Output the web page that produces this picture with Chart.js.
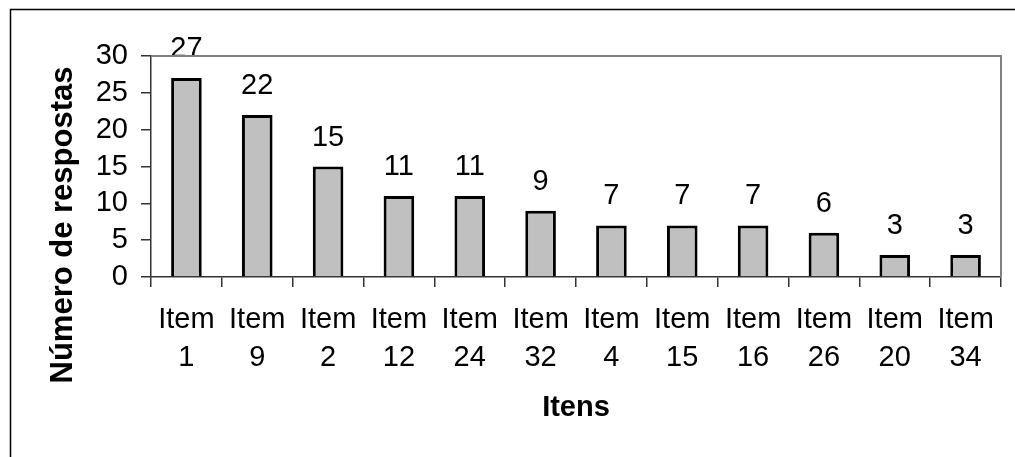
<!DOCTYPE html>
<html>
<head>
<meta charset="utf-8">
<script src="https://cdn.jsdelivr.net/npm/chart.js@4/dist/chart.umd.min.js"></script>
<style>
  body { margin: 0; background: #fff; }
  canvas { display: block; }
</style>
</head>
<body>
<canvas id="myChart" width="1015" height="457"></canvas>
<script>
const items = ['1', '9', '2', '12', '24', '32', '4', '15', '16', '26', '20', '34'];
const answers = [27, 22, 15, 11, 11, 9, 7, 7, 7, 6, 3, 3];
const yTitle = 'Número de respostas';
const xTitle = 'Itens';

const labels = items.map(function (n) { return ['Item', n]; });

// white background, outer frame and the grey plot box
const framePlugin = {
    id: 'frame',
    beforeDraw: function (chart) {
        const ctx = chart.ctx;
        ctx.save();
        ctx.fillStyle = '#fff';
        ctx.fillRect(0, 0, chart.width, chart.height);
        ctx.strokeStyle = '#000';
        ctx.lineWidth = 1.5;
        ctx.beginPath();
        ctx.moveTo(10.5, chart.height + 2);
        ctx.lineTo(10.5, 9.5);
        ctx.lineTo(chart.width + 2, 9.5);
        ctx.stroke();
        ctx.restore();
    },
    afterDraw: function (chart) {
        const a = chart.chartArea;
        const ctx = chart.ctx;
        ctx.save();
        ctx.strokeStyle = '#808080';
        ctx.lineWidth = 2;
        ctx.beginPath();
        ctx.moveTo(a.left, a.top);
        ctx.lineTo(a.right, a.top);
        ctx.lineTo(a.right, a.bottom);
        ctx.stroke();

        // rotated y title, centred lower like the original
        ctx.fillStyle = '#000';
        ctx.font = 'bold 31px "Liberation Sans", Arial, sans-serif';
        ctx.translate(63, 225);
        ctx.rotate(-Math.PI / 2);
        ctx.textAlign = 'center';
        ctx.textBaseline = 'middle';
        ctx.fillText(yTitle, 0, 0);
        ctx.restore();
    }
};

// value above each bar
const valuePlugin = {
    id: 'values',
    afterDatasetsDraw: function (chart) {
        const ctx = chart.ctx;
        const meta = chart.getDatasetMeta(0);
        ctx.save();
        ctx.fillStyle = '#000';
        ctx.font = '29px "Liberation Sans", Arial, sans-serif';
        ctx.textAlign = 'center';
        ctx.textBaseline = 'alphabetic';
        meta.data.forEach(function (bar, i) {
            ctx.fillText(String(answers[i]), bar.x, bar.y - 21);
        });
        ctx.restore();
    }
};

const tickFont = { family: '"Liberation Sans", Arial, sans-serif', size: 29 };

const config = {
    type: 'bar',
    data: {
        labels: labels,
        datasets: [{
            data: answers,
            backgroundColor: '#C0C0C0',
            borderColor: '#000',
            borderWidth: 3,
            categoryPercentage: 0.6,
            barPercentage: 0.72
        }]
    },
    options: {
        responsive: false,
        animation: false,
        layout: {
            padding: { top: 56, right: 14, left: 0, bottom: 0 }
        },
        scales: {
            y: {
                min: 0,
                max: 30,
                afterFit: function (scale) { scale.width = 151; },
                ticks: {
                    stepSize: 5,
                    autoSkip: false,
                    padding: 13,
                    color: '#000',
                    font: tickFont
                },
                grid: {
                    drawOnChartArea: false,
                    tickLength: 10,
                    color: '#333',
                    lineWidth: 1.5
                },
                border: { color: '#333', width: 1.5 }
            },
            x: {
                afterFit: function (scale) { scale.height = 180; },
                ticks: {
                    padding: 14,
                    maxRotation: 0,
                    autoSkip: false,
                    color: '#000',
                    font: { family: tickFont.family, size: 29, lineHeight: 1.3 }
                },
                grid: {
                    offset: true,
                    drawOnChartArea: false,
                    tickLength: 10,
                    color: '#333',
                    lineWidth: 1.5
                },
                border: { color: '#333', width: 1.5 },
                title: {
                    display: true,
                    text: xTitle,
                    color: '#000',
                    padding: { top: 0, bottom: 32 },
                    font: { family: tickFont.family, size: 29, weight: 'bold' }
                }
            }
        },
        plugins: {
            legend: { display: false },
            tooltip: { enabled: false }
        }
    },
    plugins: [framePlugin, valuePlugin]
};

const myChart = new Chart(document.getElementById('myChart'), config);
</script>
</body>
</html>
